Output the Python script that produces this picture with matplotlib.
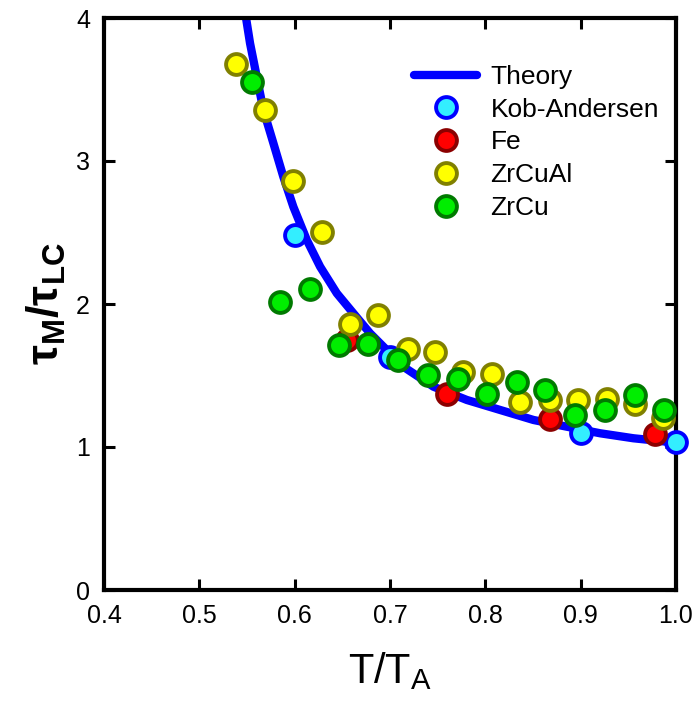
import matplotlib.pyplot as plt
import numpy as np

plt.rcParams['font.family'] = 'Liberation Sans'
plt.rcParams['mathtext.fontset'] = 'custom'
plt.rcParams['mathtext.rm'] = 'Liberation Sans'
plt.rcParams['mathtext.bf'] = 'Liberation Sans:bold'
plt.rcParams['axes.linewidth'] = 3

# theory curve, points
theory_x = [0.549, 0.5532, 0.5602, 0.5672, 0.5777, 0.5881, 0.5986, 0.6127,
            0.6267, 0.6442, 0.6616, 0.6791, 0.6966, 0.7141, 0.7455, 0.7806,
            0.8155, 0.8505, 0.8855, 0.9204, 0.9554, 0.9905, 1.0]
theory_y = [4.0, 3.823, 3.590, 3.357, 3.124, 2.890, 2.680, 2.448,
            2.261, 2.075, 1.935, 1.795, 1.678, 1.561, 1.422, 1.329,
            1.259, 1.189, 1.142, 1.096, 1.061, 1.037, 1.035]

ka_x = [0.6, 0.7, 0.9, 1.0]
ka_y = [2.485, 1.629, 1.095, 1.035]

fe_x = [0.655, 0.760, 0.868, 0.978]
fe_y = [1.745, 1.373, 1.199, 1.094]

zrcual_x = [0.5385, 0.5689, 0.5986, 0.6284, 0.6581, 0.6878, 0.7193, 0.7473,
            0.777, 0.8068, 0.8365, 0.868, 0.8977, 0.9275, 0.9572, 0.9866]
zrcual_y = [3.681, 3.355, 2.862, 2.501, 1.862, 1.92, 1.687, 1.664,
            1.524, 1.513, 1.315, 1.326, 1.326, 1.338, 1.303, 1.2]

zrcu_x = [0.555, 0.5847, 0.6162, 0.6469, 0.6773, 0.7088, 0.7403, 0.7718,
          0.8016, 0.8331, 0.8627, 0.8942, 0.9257, 0.9572, 0.9869]
zrcu_y = [3.549, 2.013, 2.106, 1.71, 1.722, 1.606, 1.501, 1.478,
          1.373, 1.454, 1.396, 1.222, 1.257, 1.361, 1.257]

fig = plt.figure(figsize=(6.98, 7.04), dpi=100)
ax = fig.add_axes([104 / 698, 1 - 590 / 704, 572 / 698, 572 / 704])

ax.plot(theory_x, theory_y, color='#0000ff', linewidth=6,
        solid_capstyle='round', solid_joinstyle='round',
        label='Theory', zorder=2)

ms = 15
mew = 2.8
series = [
    (ka_x, ka_y, '#33eeff', '#0000ff', 'Kob-Andersen'),
    (fe_x, fe_y, '#ff0000', '#8b0000', 'Fe'),
    (zrcual_x, zrcual_y, '#ffff00', '#808000', 'ZrCuAl'),
    (zrcu_x, zrcu_y, '#00ee00', '#007a00', 'ZrCu'),
]
for i, (xs, ys, fc, ec, lab) in enumerate(series):
    ax.plot(xs, ys, linestyle='none', marker='o', markersize=ms,
            markerfacecolor=fc, markeredgecolor=ec, markeredgewidth=mew,
            label=lab, clip_on=False, zorder=3 + i)

ax.set_xlim(0.4, 1.0)
ax.set_ylim(0, 4)
ax.set_xticks([0.4, 0.5, 0.6, 0.7, 0.8, 0.9, 1.0])
ax.set_xticklabels(['0.4', '0.5', '0.6', '0.7', '0.8', '0.9', '1.0'])
ax.set_yticks([0, 1, 2, 3, 4])
ax.tick_params(direction='in', length=8, width=2.2, labelsize=18, pad=10,
               top=True, right=True)

ax.set_xlabel(r'T/T$_\mathregular{A}$', fontsize=30, labelpad=16)
ax.set_ylabel(r'$\mathbf{\tau_{M}/\tau_{LC}}$', fontsize=32, labelpad=6)

ax.legend(loc='upper left', bbox_to_anchor=(0.542, 0.918), frameon=False,
          fontsize=19, handlelength=2.4, handletextpad=0.5,
          labelspacing=0.33, borderpad=0, borderaxespad=0)

plt.savefig('out.png', dpi=100)
